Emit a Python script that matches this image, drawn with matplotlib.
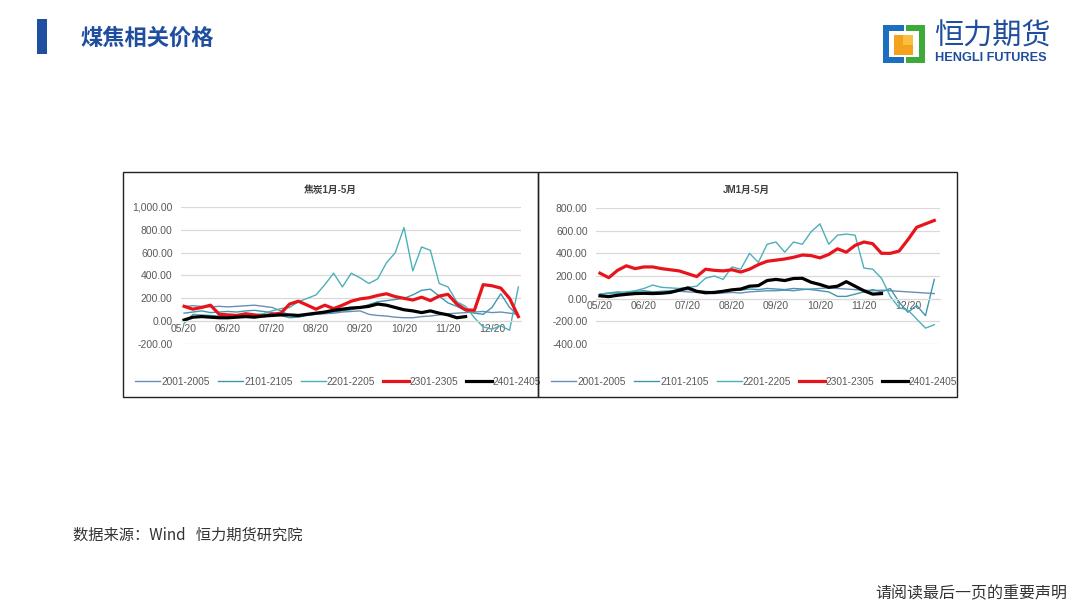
import numpy as np
import matplotlib
matplotlib.use('Agg')
import matplotlib.pyplot as plt
from matplotlib.patches import Rectangle

# ---- data (month offsets from 05/20, spread values) ----
month_pos = [0.0, 0.2, 0.4, 0.6, 0.8, 1.0, 1.2, 1.4, 1.6, 1.8, 2.0, 2.2, 2.4,
             2.6, 2.8, 3.0, 3.2, 3.4, 3.6, 3.8, 4.0, 4.2, 4.4, 4.6, 4.8, 5.0,
             5.2, 5.4, 5.6, 5.8, 6.0, 6.2, 6.4, 6.6, 6.8, 7.0, 7.2, 7.4, 7.6]
month_labels = ['05/20', '06/20', '07/20', '08/20', '09/20', '10/20', '11/20', '12/20']
series_names = ['2001-2005', '2101-2105', '2201-2205', '2301-2305', '2401-2405']

# 焦炭 (left)
coke_2001 = [130, 135, 130, 125, 130, 125, 130, 135, 140, 130, 120, 90, 50,
             40, 55, 60, 65, 70, 80, 85, 90, 60, 50, 45, 35, 30,
             30, 40, 45, 55, 65, 70, 75, 80, 85, 75, 80, 70, 60]
coke_2101 = [70, 80, 90, 75, 80, 85, 80, 90, 95, 85, 75, 50, 30,
             35, 50, 60, 70, 80, 90, 100, 120, 145, 170, 180, 190, 200,
             230, 270, 280, 220, 160, 130, 90, 70, 60, 120, 240, 120, 50]
coke_2201 = [-20, 60, 55, 50, 45, 50, 55, 60, 55, 65, 90, 110, 120,
             170, 200, 230, 320, 420, 300, 420, 380, 330, 370, 510, 600, 820,
             440, 650, 620, 330, 300, 170, 130, 30, -50, -70, -40, -80, 300]
coke_2301 = [130, 105, 120, 140, 60, 55, 50, 65, 55, 45, 60, 70, 150,
             175, 140, 105, 140, 110, 140, 175, 195, 205, 225, 240, 215, 200,
             185, 210, 180, 220, 235, 150, 100, 95, 320, 310, 290, 200, 40]
coke_2401 = [10, 35, 40, 35, 30, 30, 35, 40, 35, 45, 50, 55, 55,
             50, 60, 70, 80, 95, 105, 115, 120, 130, 150, 140, 120, 100,
             90, 75, 90, 70, 55, 30, 40]

# JM 焦煤 (right)
jm_2001 = [40, 45, 50, 45, 50, 55, 50, 55, 60, 65, 60, 55, 50,
           45, 50, 55, 50, 60, 65, 70, 70, 75, 70, 80, 85, 90,
           95, 90, 85, 80, 75, 70, 75, 70, 65, 60, 55, 50, 45]
jm_2101 = [40, 50, 60, 55, 65, 70, 60, 65, 70, 75, 80, 70, 65,
           60, 70, 80, 75, 85, 80, 90, 85, 80, 90, 85, 80, 70,
           60, 20, 20, 40, 60, 80, 60, 90, -30, -120, -60, -150, 170]
jm_2201 = [40, 50, 45, 60, 70, 90, 120, 100, 95, 90, 100, 110, 180,
           200, 170, 280, 260, 400, 320, 480, 500, 410, 500, 480, 590, 660,
           480, 560, 570, 560, 270, 260, 180, 20, -80, -100, -180, -260, -230]
jm_2301 = [225, 185, 250, 290, 265, 280, 280, 265, 255, 245, 220, 195, 260,
           250, 245, 255, 235, 260, 300, 330, 340, 350, 365, 385, 380, 360,
           390, 440, 410, 470, 500, 485, 400, 400, 420, 520, 630, 660, 690]
jm_2401 = [25, 18, 30, 38, 45, 47, 45, 48, 55, 75, 95, 65, 52,
           55, 65, 78, 85, 110, 115, 160, 170, 160, 178, 180, 145, 125,
           100, 110, 150, 110, 70, 40, 45]

colors = ['#6A8DB8', '#3F97AE', '#4DB0B8', '#E8141B', '#000000']
widths = [1.0, 1.0, 1.0, 2.3, 2.3]

plt.rcParams['font.family'] = ['Liberation Sans', 'Noto Sans CJK SC', 'DejaVu Sans']

fig = plt.figure(figsize=(10.8, 6.07), dpi=100)


def fx(px):
    return px / 1080


def fy(py):
    return 1 - py / 607


def box(x0, y0, x1, y1, **kw):
    # rectangle given in pixel coordinates of the page
    r = Rectangle((fx(x0), fy(y1)), (x1 - x0) / 1080, (y1 - y0) / 607,
                  transform=fig.transFigure, **kw)
    fig.add_artist(r)


def panel(px_left, px_right, px_top, px_bottom, xlim, ylim, yticks, title, title_x, data):
    ax = fig.add_axes([fx(px_left), fy(px_bottom), (px_right - px_left) / 1080,
                       (px_bottom - px_top) / 607])
    for name, vals, c, w in zip(series_names, data, colors, widths):
        ax.plot(month_pos[:len(vals)], vals, color=c, lw=w, label=name,
                solid_joinstyle='round')
    ax.set_xlim(*xlim)
    ax.set_ylim(*ylim)
    ax.set_yticks(yticks)
    ax.set_yticklabels(['{:,.2f}'.format(v) for v in yticks])
    ax.set_xticks(range(len(month_labels)))
    ax.set_xticklabels(month_labels)
    ax.grid(axis='y', color='#D9D9D9', lw=0.9)
    ax.set_axisbelow(True)
    for s in ['top', 'right', 'left']:
        ax.spines[s].set_visible(False)
    ax.spines['bottom'].set_position(('data', 0))
    ax.spines['bottom'].set_color('#D9D9D9')
    ax.tick_params(axis='y', length=0, pad=6, labelsize=7.5, labelcolor='#595959')
    ax.tick_params(axis='x', length=0, pad=2, labelsize=7.5, labelcolor='#595959')
    ax.patch.set_alpha(0)
    fig.text(fx(title_x), fy(190), title, ha='center', va='center',
             fontsize=7, fontweight='bold', color='#404040')
    leg = ax.legend(loc='center', bbox_to_anchor=(fx(title_x + 8), fy(382)),
                    bbox_transform=fig.transFigure, ncol=5, frameon=False,
                    fontsize=7.3, handlelength=2.5, columnspacing=0.8,
                    handletextpad=0.1)
    for t in leg.get_texts():
        t.set_color('#595959')
    return ax


# chart frames
box(123, 172, 538, 397, fill=False, edgecolor='#222222', lw=1.0)
box(538, 172, 957, 397, fill=False, edgecolor='#222222', lw=1.0)

panel(181, 521, 207, 344, (-0.07, 7.66), (-200, 1000),
      [-200, 0, 200, 400, 600, 800, 1000], '焦炭1月-5月', 330,
      [coke_2001, coke_2101, coke_2201, coke_2301, coke_2401])
panel(596, 940, 208, 344, (-0.09, 7.73), (-400, 800),
      [-400, -200, 0, 200, 400, 600, 800], 'JM1月-5月', 746,
      [jm_2001, jm_2101, jm_2201, jm_2301, jm_2401])

# header
box(37, 19, 47, 54, color='#1F4FA0', lw=0)
fig.text(fx(80), fy(38), '煤焦相关价格', ha='left', va='center', fontsize=16,
         fontweight='bold', color='#1F4E9E', family=['Noto Sans CJK SC'])

# logo
box(883, 25, 904, 63, color='#1C6FC0', lw=0)
box(906, 25, 925, 63, color='#3DAA3A', lw=0)
box(889, 31, 919, 57, color='white', lw=0)
box(894, 35, 913, 55, color='#F4A21E', lw=0)
box(903, 35, 913, 45, color='#F8C040', lw=0)
fig.text(fx(934), fy(37), '恒力期货', ha='left', va='center', fontsize=21,
         color='#1F4E9E', family=['Noto Sans CJK SC'], fontweight='medium')
fig.text(fx(935), fy(58), 'HENGLI FUTURES', ha='left', va='center', fontsize=9.2,
         color='#1F4E9E', fontweight='bold')

# footer
fig.text(fx(73), fy(535), '数据来源：Wind   恒力期货研究院', ha='left', va='center',
         fontsize=11, color='#333333', family=['Noto Sans CJK SC'])
fig.text(fx(1067), fy(594), '请阅读最后一页的重要声明', ha='right', va='center',
         fontsize=11.5, color='#333333', family=['Noto Sans CJK SC'])

fig.savefig('out.png', dpi=100)
